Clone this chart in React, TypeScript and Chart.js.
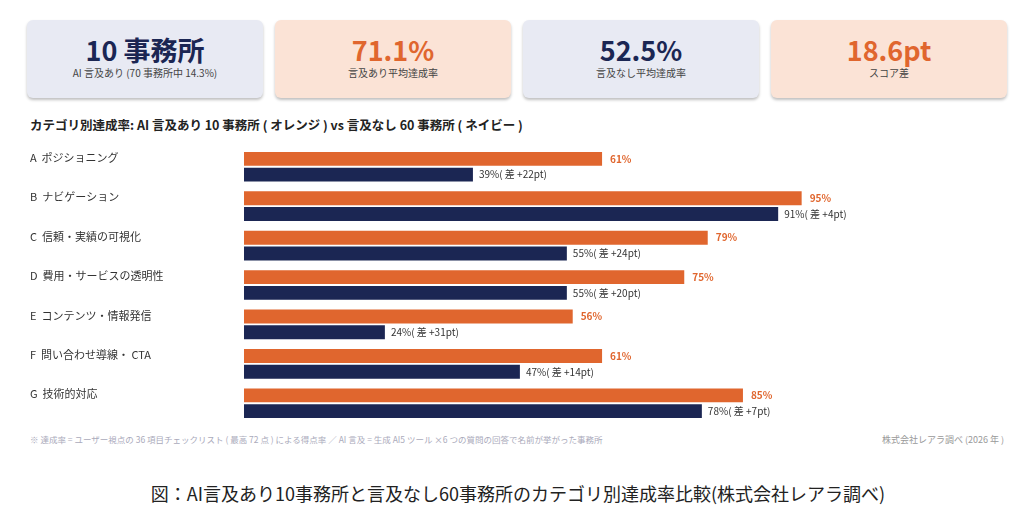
import React, { useEffect, useRef } from "react";
import { Chart, registerables } from "chart.js";
Chart.register(...registerables);

const categories = ["A  ポジショニング", "B  ナビゲーション", "C  信頼・実績の可視化", "D  費用・サービスの透明性", "E  コンテンツ・情報発信", "F  問い合わせ導線・ CTA", "G  技術的対応"];
const withAI = [61, 95, 79, 75, 56, 61, 85];
const withoutAI = [39, 91, 55, 55, 24, 47, 78];
const diffs = [22, 4, 24, 20, 31, 14, 7];

const cards = [
  { big: "10 事務所", small: "AI 言及あり (70 事務所中 14.3%)", bg: "#e8eaf3", color: "#1b2653" },
  { big: "71.1%", small: "言及あり平均達成率", bg: "#fbe3d6", color: "#e0662e" },
  { big: "52.5%", small: "言及なし平均達成率", bg: "#e8eaf3", color: "#1b2653" },
  { big: "18.6pt", small: "スコア差", bg: "#fbe3d6", color: "#e0662e" },
];

const FONT = "'Noto Sans CJK JP', 'Noto Sans', sans-serif";
const ORANGE = "#e0662e";
const NAVY = "#1b2653";

export default function App() {
  const ref = useRef<HTMLCanvasElement>(null);
  useEffect(() => {
    const labelPlugin = {
      id: "labels",
      afterDatasetsDraw(chart: any) {
        const ctx = chart.ctx;
        ctx.save();
        ctx.textBaseline = "middle";
        const m0 = chart.getDatasetMeta(0);
        const m1 = chart.getDatasetMeta(1);
        m0.data.forEach((b: any, i: number) => {
          ctx.font = `bold 10px ${FONT}`;
          ctx.fillStyle = ORANGE;
          ctx.textAlign = "left";
          ctx.fillText(`${withAI[i]}%`, b.x + 8, b.y);
          const b1 = m1.data[i];
          ctx.font = `10px ${FONT}`;
          ctx.fillStyle = "#333";
          ctx.fillText(`${withoutAI[i]}%( 差 +${diffs[i]}pt)`, b1.x + 6, b1.y);
          ctx.font = `11px ${FONT}`;
          ctx.fillStyle = "#333";
          ctx.fillText(categories[i], 10, (b.y + b1.y) / 2 - 9);
        });
        ctx.restore();
      },
    };
    const chart = new Chart(ref.current!, {
      type: "bar",
      data: {
        labels: categories,
        datasets: [
          { data: withAI, backgroundColor: ORANGE, categoryPercentage: 0.8, barPercentage: 0.88 },
          { data: withoutAI, backgroundColor: NAVY, categoryPercentage: 0.8, barPercentage: 0.88 },
        ],
      },
      options: {
        indexAxis: "y",
        animation: false,
        responsive: false,
        layout: { padding: { left: 224, right: 179, top: 0, bottom: 0 } },
        plugins: { legend: { display: false }, tooltip: { enabled: false } },
        scales: {
          x: { min: 0, max: 100, display: false },
          y: { display: false },
        },
      },
      plugins: [labelPlugin],
    });
    return () => chart.destroy();
  }, []);

  return (
    <div style={{ position: "absolute", left: 0, top: 0, width: 1036, height: 516, background: "#fff", fontFamily: FONT }}>
      {cards.map((c, i) => (
        <div key={i} style={{ position: "absolute", left: 27 + i * 248, top: 20, width: 236, height: 78, background: c.bg, borderRadius: 6, boxShadow: "0 2px 3px rgba(0,0,0,0.25)", textAlign: "center" }}>
          <div style={{ marginTop: 14, fontSize: 27, fontWeight: "bold", color: c.color, lineHeight: "32px" }}>{c.big}</div>
          <div style={{ fontSize: 10, color: "#444", lineHeight: "14px" }}>{c.small}</div>
        </div>
      ))}
      <div style={{ position: "absolute", left: 30, top: 115, fontSize: 12.5, fontWeight: "bold", color: "#222" }}>
        カテゴリ別達成率:  AI 言及あり 10 事務所 ( オレンジ ) vs  言及なし 60 事務所 ( ネイビー )
      </div>
      <canvas ref={ref} width={990} height={276} style={{ position: "absolute", left: 20, top: 147 }} />
      <div style={{ position: "absolute", left: 30, top: 433, fontSize: 8.5, color: "#aab" }}>
        ※ 達成率 = ユーザー視点の 36 項目チェックリスト ( 最高 72 点 ) による得点率 ／ AI 言及 = 生成 AI5 ツール ×6 つの質問の回答で名前が挙がった事務所
      </div>
      <div style={{ position: "absolute", right: 32, top: 433, fontSize: 9, color: "#999" }}>株式会社レアラ調べ (2026 年 )</div>
      <div style={{ position: "absolute", left: 0, width: 1036, top: 480, textAlign: "center", fontSize: 18, color: "#222" }}>
        図：AI言及あり10事務所と言及なし60事務所のカテゴリ別達成率比較(株式会社レアラ調べ)
      </div>
    </div>
  );
}
